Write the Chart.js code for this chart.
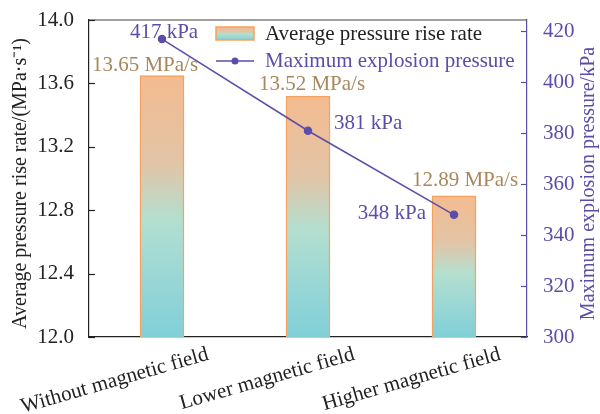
<!DOCTYPE html>
<html>
<head>
<meta charset="utf-8">
<script src="https://cdn.jsdelivr.net/npm/chart.js@4.4.0/dist/chart.umd.min.js"></script>
<style>
  html, body { margin: 0; padding: 0; background: #fff; }
  #wrap { width: 600px; height: 414px; }
</style>
</head>
<body>
<div id="wrap"><canvas id="grafica" width="600" height="414"></canvas></div>
<script>
// datos
const categorias = ['Without magnetic field', 'Lower magnetic field', 'Higher magnetic field'];
const tasaPresion = [13.65, 13.52, 12.89];      // MPa/s
const presionMax = [417, 381, 348];              // kPa
const ticksIzq = [12.0, 12.4, 12.8, 13.2, 13.6, 14.0];
const ticksDer = [300, 320, 340, 360, 380, 400, 420];

// estilos
const FUENTE = "'Liberation Serif', 'Times New Roman', serif";
const MORADO = '#5a4ea8';
const NARANJA = '#f6a25e';
const TAN = '#a8875c';
// desplazamientos de las etiquetas de valor (px)
const offBarra = [[-17, -10], [4, -12], [11, -15]];
const offLinea = [[2, -7, 'center'], [26, -7, 'left'], [-28, -1, 'right']];

function degradado(ctx, top, bottom) {
    const g = ctx.createLinearGradient(0, top, 0, bottom);
    g.addColorStop(0, '#f4bb90');
    g.addColorStop(0.33, '#e2c4a6');
    g.addColorStop(0.55, '#b4dfcf');
    g.addColorStop(0.8, '#97d6d6');
    g.addColorStop(1, '#80d0d8');
    return g;
}

// marcas hacia dentro, marco superior y títulos de ejes
const marcoPlugin = {
    id: 'marco',
    afterDraw(chart) {
        const c = chart.ctx;
        const a = chart.chartArea;
        const y = chart.scales.y, y1 = chart.scales.y1;
        c.save();
        c.lineWidth = 1.2;
        c.strokeStyle = '#444';
        c.beginPath(); c.moveTo(a.left, a.top); c.lineTo(a.right, a.top); c.stroke();
        c.strokeStyle = '#222';
        ticksIzq.forEach(v => {
            const py = Math.round(y.getPixelForValue(v)) + 0.5;
            c.beginPath(); c.moveTo(a.left, py); c.lineTo(a.left + 6, py); c.stroke();
        });
        c.strokeStyle = MORADO;
        ticksDer.forEach(v => {
            const py = Math.round(y1.getPixelForValue(v)) + 0.5;
            c.beginPath(); c.moveTo(a.right, py); c.lineTo(a.right - 6, py); c.stroke();
        });
        // títulos de ejes
        c.font = '20px ' + FUENTE;
        c.textAlign = 'center';
        c.textBaseline = 'middle';
        const cy = (a.top + a.bottom) / 2 + 5;
        c.fillStyle = '#222';
        c.translate(21, cy); c.rotate(-Math.PI / 2);
        c.fillText('Average pressure rise rate/(MPa·s\u207B\u00B9)', 0, 0);
        c.setTransform(1, 0, 0, 1, 0, 0);
        c.fillStyle = MORADO;
        c.translate(589, cy); c.rotate(-Math.PI / 2);
        c.fillText('Maximum explosion pressure/kPa', 0, 0);
        c.restore();
    }
};

// etiquetas de valores y leyenda
const etiquetasPlugin = {
    id: 'etiquetas',
    afterDatasetsDraw(chart) {
        const c = chart.ctx;
        c.save();
        c.font = '21px ' + FUENTE;
        c.textBaseline = 'middle';
        chart.getDatasetMeta(0).data.forEach((el, i) => {
            c.fillStyle = TAN;
            c.textAlign = 'center';
            c.fillText(tasaPresion[i].toFixed(2) + ' MPa/s', el.x + offBarra[i][0], el.y + offBarra[i][1]);
        });
        chart.getDatasetMeta(1).data.forEach((el, i) => {
            c.fillStyle = MORADO;
            c.textAlign = offLinea[i][2];
            c.fillText(presionMax[i] + ' kPa', el.x + offLinea[i][0], el.y + offLinea[i][1]);
        });
        // leyenda
        const lx = 216, ly = 27;
        c.fillStyle = degradado(c, ly, ly + 13);
        c.fillRect(lx, ly, 38, 13);
        c.strokeStyle = NARANJA; c.lineWidth = 1.5;
        c.strokeRect(lx, ly, 38, 13);
        c.textAlign = 'left';
        c.fillStyle = '#222';
        c.fillText(chart.data.datasets[0].label, 265, 34);
        c.strokeStyle = MORADO; c.lineWidth = 1.5;
        c.beginPath(); c.moveTo(lx, 61); c.lineTo(lx + 38, 61); c.stroke();
        c.fillStyle = MORADO;
        c.beginPath(); c.arc(lx + 19, 61, 3.5, 0, Math.PI * 2); c.fill();
        c.fillText(chart.data.datasets[1].label, 265, 61);
        c.restore();
    }
};

function dibujar() {
    const ctx = document.getElementById('grafica').getContext('2d');
    new Chart(ctx, {
        data: {
            labels: categorias,
            datasets: [{
                type: 'bar',
                label: 'Average pressure rise rate',
                data: tasaPresion,
                yAxisID: 'y',
                barThickness: 44,
                borderColor: NARANJA,
                borderWidth: 1.5,
                borderSkipped: false,
                backgroundColor: (context) => {
                    const chart = context.chart;
                    if (!chart.chartArea || context.type !== 'data') return '#f4bb90';
                    const top = chart.scales.y.getPixelForValue(context.raw);
                    const bottom = chart.scales.y.getPixelForValue(12);
                    return degradado(chart.ctx, top, bottom);
                },
                order: 2
            }, {
                type: 'line',
                label: 'Maximum explosion pressure',
                data: presionMax,
                yAxisID: 'y1',
                borderColor: MORADO,
                backgroundColor: MORADO,
                borderWidth: 1.5,
                pointRadius: 3.5,
                pointHoverRadius: 3.5,
                order: 1
            }]
        },
        options: {
            responsive: false,
            animation: false,
            layout: { padding: { top: 20, left: 0, right: 0, bottom: 0 } },
            plugins: { legend: { display: false }, tooltip: { enabled: false } },
            scales: {
                x: {
                    offset: true,
                    grid: { display: false },
                    border: { color: '#222', width: 1.2 },
                    ticks: {
                        color: '#222',
                        font: { family: FUENTE, size: 21 },
                        maxRotation: 16, minRotation: 16,
                        labelOffset: 46,
                        padding: -3
                    },
                    afterFit: (s) => {
                        s.height = 77;
                        s.paddingLeft = 0; s.paddingRight = 0;
                    }
                },
                y: {
                    position: 'left',
                    min: 12, max: 14,
                    grid: { display: false },
                    border: { color: '#222', width: 1.2 },
                    ticks: {
                        color: '#222',
                        padding: 7,
                        font: { family: FUENTE, size: 21 },
                        callback: (v) => v.toFixed(1)
                    },
                    afterBuildTicks: (s) => { s.ticks = ticksIzq.map(v => ({ value: v })); },
                    afterFit: (s) => { s.width = 89; s.paddingTop = 0; s.paddingBottom = 0; }
                },
                y1: {
                    position: 'right',
                    min: 300, max: 424.5,
                    grid: { display: false },
                    border: { color: MORADO, width: 1.2 },
                    ticks: {
                        color: MORADO,
                        padding: 8,
                        font: { family: FUENTE, size: 21 }
                    },
                    afterBuildTicks: (s) => { s.ticks = ticksDer.map(v => ({ value: v })); },
                    afterFit: (s) => { s.width = 73; s.paddingTop = 0; s.paddingBottom = 0; }
                }
            }
        },
        plugins: [marcoPlugin, etiquetasPlugin]
    });
}

document.fonts.load('18px "Liberation Serif"').then(dibujar, dibujar);
</script>
</body>
</html>
